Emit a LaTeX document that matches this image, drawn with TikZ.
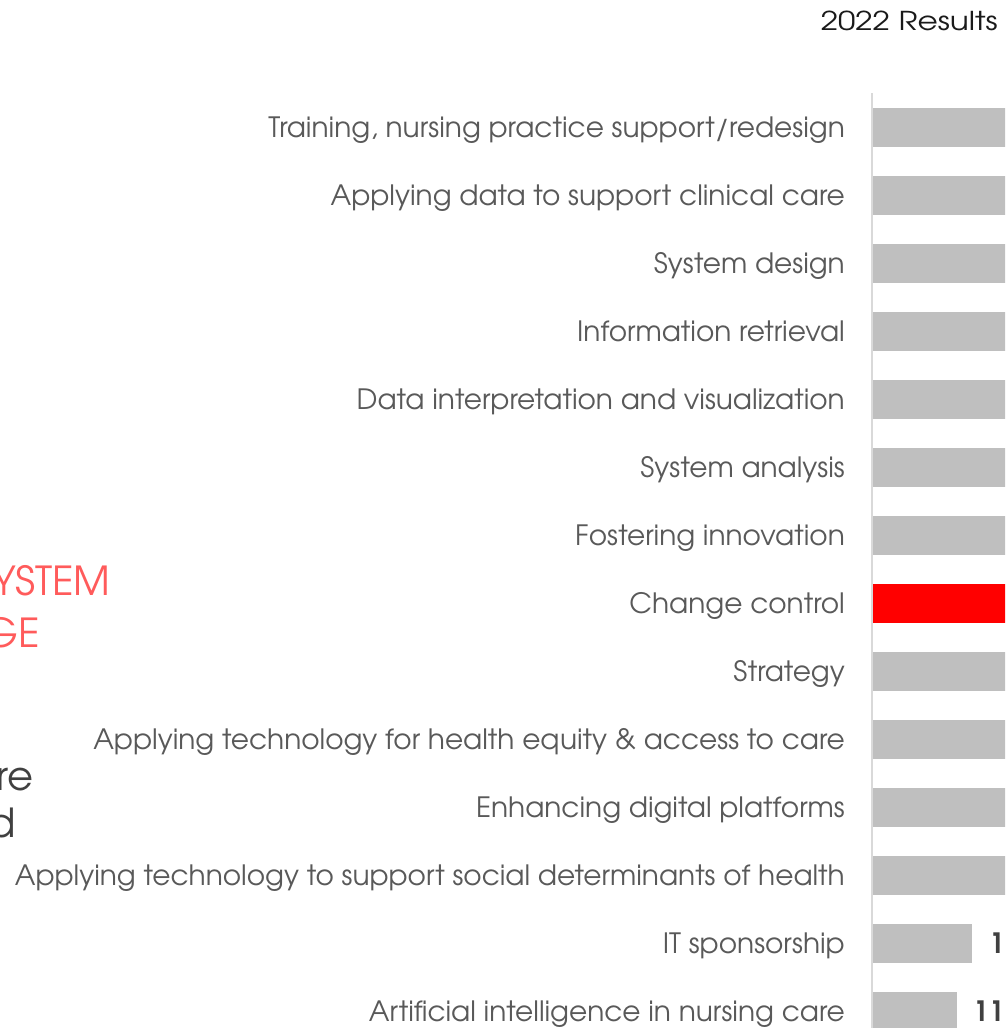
\documentclass[tikz,border=0pt]{standalone}
\usepackage{fontspec}
\setmainfont{TeX Gyre Adventor}
\definecolor{lbl}{HTML}{595959}
\definecolor{bargray}{HTML}{BFBFBF}
\definecolor{axisgray}{HTML}{D9D9D9}
\definecolor{salmon}{HTML}{FF5B5B}
\definecolor{dark}{HTML}{1A1A1A}
\definecolor{numcol}{HTML}{404040}
\begin{document}
\begin{tikzpicture}[x=1pt,y=-1pt,
  label/.style={anchor=east,inner sep=0pt,text height=20.7pt,text depth=0pt,text=lbl,font=\fontsize{28}{28}\selectfont},
  num/.style={anchor=west,inner sep=0pt,text height=20.5pt,text depth=0pt,text=numcol,font=\fontsize{28}{28}\selectfont\bfseries},
  side/.style={anchor=base west,inner sep=0pt,font=\fontsize{40}{40}\selectfont}]
\useasboundingbox (0,0) rectangle (1005,1028);
\clip (0,0) rectangle (1005,1028);
\node[anchor=base east,inner sep=0pt,text=dark,font=\fontsize{26}{26}\selectfont\addfontfeatures{FakeStretch=1.2}] (title) at (998,30) {2022 Results};
\draw[axisgray,line width=2pt] (872,93) coordinate (axtop) -- (872,1028) coordinate (axbot);
\foreach \i/\t in {0/{Training, nursing practice support/redesign},
  1/{Applying data to support clinical care},
  2/{System design},
  3/{Information retrieval},
  4/{Data interpretation and visualization},
  5/{System analysis},
  6/{Fostering innovation},
  7/{Change control},
  8/{Strategy},
  9/{Applying technology for health equity \& access to care},
  10/{Enhancing digital platforms},
  11/{Applying technology to support social determinants of health},
  12/{IT sponsorship},
  13/{Artificial intelligence in nursing care}}{
  \node[label] (l\i) at (845,{127+68*\i}) {\t};
}
\foreach \i in {0,...,6,8,9,10,11}{
  \fill[bargray] (873,{127+68*\i-19.5}) rectangle (1010,{127+68*\i+19.5});
  \coordinate (b\i) at (873,{127+68*\i});
}
\fill[red] (873,{127+68*7-19.5}) rectangle (1010,{127+68*7+19.5});
\coordinate (b7) at (873,{127+68*7});
\fill[bargray] (873,{127+68*12-19.5}) rectangle (972,{127+68*12+19.5});
\coordinate (b12) at (972,{127+68*12});
\fill[bargray] (873,{127+68*13-19.5}) rectangle (957,{127+68*13+19.5});
\coordinate (b13) at (957,{127+68*13});
\node[num] (n12) at (989,{127+68*12}) {1};
\node[num] (n13) at (973,{127+68*13}) {11};
\node[side,text=salmon] (s1) at (-8,595) {YSTEM};
\node[side,text=salmon] (s2) at (-17,647) {GE};
\node[side,text=numcol] (s3) at (-4,790) {re};
\node[side,text=numcol] (s4) at (-12,837) {d};
\end{tikzpicture}
\end{document}
